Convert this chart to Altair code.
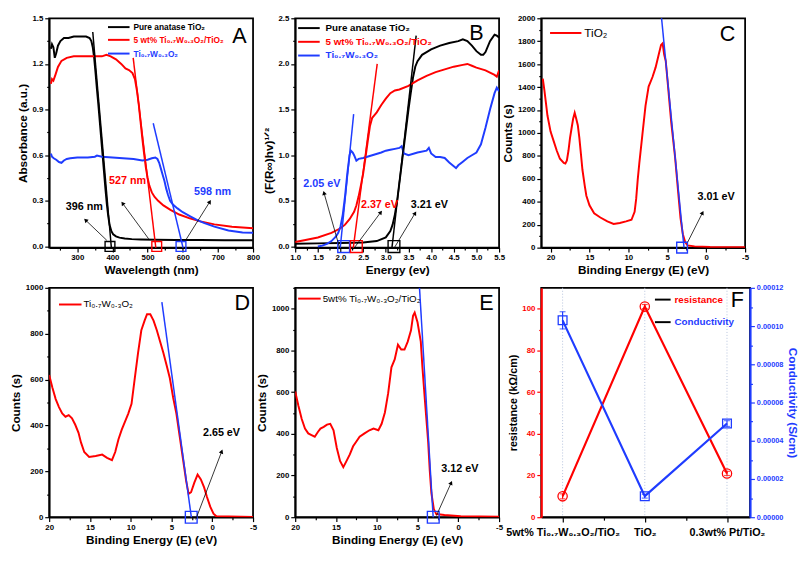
import json
import math
import altair as alt
import pandas as pd

FONT = "Liberation Sans"
RED = "#FF0000"
BLUE = "#1F3CFF"
BLACK = "#000000"
W, H, WF = 208, 234, 213

# ---------------- Panel A : absorbance vs wavelength ----------------
A_black_nm = [225, 228, 232, 236, 240, 245, 252, 262, 275, 290, 310, 325, 335, 340, 344, 348, 352, 356, 360, 364,
              368, 372, 376, 380, 384, 388, 392, 397, 402, 410, 420, 435, 455, 480, 520, 580, 650, 720, 800]
A_black_ab = [1.30, 1.33, 1.31, 1.24, 1.27, 1.32, 1.35, 1.37, 1.37, 1.38, 1.38, 1.38, 1.37, 1.35, 1.31, 1.24, 1.14,
              1.03, 0.93, 0.82, 0.71, 0.60, 0.49, 0.38, 0.28, 0.20, 0.14, 0.10, 0.08, 0.066, 0.058, 0.052, 0.048,
              0.046, 0.044, 0.043, 0.042, 0.041, 0.040]
A_red_nm = [225, 228, 232, 238, 245, 255, 270, 290, 320, 350, 370, 383, 395, 410, 425, 437, 447, 457, 464, 470,
            475, 480, 485, 490, 495, 500, 505, 512, 520, 530, 545, 565, 590, 620, 650, 690, 740, 800]
A_red_ab = [1.07, 1.10, 1.09, 1.13, 1.18, 1.22, 1.24, 1.25, 1.25, 1.25, 1.25, 1.26, 1.25, 1.23, 1.20, 1.17, 1.16,
            1.14, 1.10, 1.02, 0.93, 0.82, 0.71, 0.61, 0.52, 0.45, 0.40, 0.355, 0.325, 0.30, 0.27, 0.24, 0.21,
            0.185, 0.165, 0.145, 0.13, 0.12]
A_blue_nm = [225, 228, 233, 240, 248, 255, 262, 270, 280, 300, 330, 350, 356, 370, 400, 430, 460, 485, 500, 512,
             522, 528, 533, 538, 543, 548, 553, 558, 564, 572, 585, 600, 620, 640, 660, 690, 730, 770, 800]
A_blue_ab = [0.61, 0.59, 0.58, 0.57, 0.555, 0.55, 0.565, 0.575, 0.58, 0.585, 0.585, 0.59, 0.597, 0.59, 0.585, 0.58,
             0.575, 0.565, 0.57, 0.58, 0.585, 0.575, 0.55, 0.51, 0.47, 0.43, 0.38, 0.34, 0.30, 0.275, 0.25, 0.225,
             0.20, 0.175, 0.155, 0.13, 0.105, 0.092, 0.09]
A_tan_black = ([344, 397], [1.41, -0.01])
A_tan_red = ([459, 524], [1.24, -0.02])
A_tan_blue = ([516, 601], [0.81, -0.01])
A_box_x = [393, 526, 595]
A_arrow_x1 = [384, 503, 608]
A_arrow_y1 = [0.04, 0.05, 0.04]
A_arrow_x2 = [325, 430, 676]
A_arrow_y2 = [0.17, 0.28, 0.29]
A_lab_x = [320, 443, 685]
A_lab_y = [0.26, 0.43, 0.36]
A_lab_t = ["396 nm", "527 nm", "598 nm"]

# ---------------- Panel B : Tauc plot ----------------
B_black_e = [1.0, 1.5, 2.0, 2.5, 2.8, 3.0, 3.1, 3.15, 3.2, 3.25, 3.3, 3.35, 3.4, 3.45, 3.5, 3.55, 3.6, 3.65, 3.7,
             3.8, 3.9, 4.0, 4.2, 4.4, 4.6, 4.7, 4.8, 4.9, 5.0, 5.1, 5.15, 5.2, 5.3, 5.4, 5.45, 5.5]
B_black_v = [0.03, 0.035, 0.04, 0.045, 0.06, 0.1, 0.17, 0.24, 0.35, 0.5, 0.7, 0.9, 1.1, 1.3, 1.5, 1.68, 1.85, 1.97,
             2.03, 2.1, 2.13, 2.16, 2.2, 2.23, 2.25, 2.27, 2.25, 2.2, 2.14, 2.1, 2.1, 2.13, 2.25, 2.32, 2.31, 2.29]
B_red_e = [1.0, 1.2, 1.5, 1.8, 2.0, 2.1, 2.2, 2.3, 2.35, 2.4, 2.45, 2.5, 2.55, 2.6, 2.65, 2.7, 2.75, 2.8, 2.9, 3.0,
           3.1, 3.2, 3.3, 3.5, 3.7, 3.9, 4.1, 4.3, 4.5, 4.7, 4.8, 4.9, 5.0, 5.2, 5.4, 5.45, 5.5]
B_red_v = [0.05, 0.07, 0.1, 0.15, 0.2, 0.24, 0.3, 0.38, 0.45, 0.55, 0.67, 0.8, 0.97, 1.15, 1.32, 1.41, 1.44, 1.47,
           1.55, 1.62, 1.68, 1.71, 1.72, 1.76, 1.82, 1.87, 1.91, 1.94, 1.97, 1.99, 2.0, 1.98, 1.96, 1.93, 1.88,
           1.86, 1.93]
B_blue_e = [1.5, 1.6, 1.7, 1.8, 1.9, 1.95, 2.0, 2.05, 2.1, 2.15, 2.2, 2.23, 2.27, 2.3, 2.35, 2.4, 2.5, 2.7, 2.9,
            3.0, 3.1, 3.2, 3.3, 3.35, 3.4, 3.5, 3.7, 3.9, 3.95, 4.0, 4.1, 4.2, 4.3, 4.4, 4.5, 4.55, 4.6, 4.7, 4.8,
            4.9, 5.0, 5.1, 5.2, 5.3, 5.4, 5.45, 5.5]
B_blue_v = [0.0, 0.01, 0.03, 0.06, 0.11, 0.15, 0.22, 0.35, 0.55, 0.8, 1.0, 1.05, 1.03, 1.0, 0.94, 0.96, 0.97, 1.0,
            1.03, 1.05, 1.06, 1.07, 1.08, 1.1, 1.02, 1.0, 1.03, 1.05, 1.08, 1.02, 0.98, 0.98, 0.97, 0.92, 0.88,
            0.86, 0.89, 0.93, 0.97, 1.0, 1.03, 1.12, 1.3, 1.5, 1.68, 1.74, 1.7]
B_tan_black = ([3.12, 3.67], [-0.08, 2.31])
B_tan_red = ([2.27, 2.81], [-0.06, 2.0])
B_tan_blue = ([1.99, 2.29], [-0.035, 1.45])
B_box_x = [2.07, 2.35, 3.18]
B_arrow_x1 = [1.99, 2.28, 3.18]
B_arrow_y1 = [-0.03, -0.03, -0.02]
B_arrow_x2 = [1.64, 2.88, 3.64]
B_arrow_y2 = [0.58, 0.37, 0.36]
B_lab_x = [1.59, 2.86, 3.96]
B_lab_y = [0.68, 0.45, 0.45]
B_lab_t = ["2.05 eV", "2.37 eV", "3.21 eV"]

# ---------------- Panel C : XPS valence band TiO2 ----------------
C_e = [21.0, 20.8, 20.6, 20.4, 20.0, 19.6, 19.2, 18.8, 18.3, 18.1, 17.9, 17.7, 17.5, 17.3, 17.1, 16.9, 16.7, 16.5,
       16.3, 16.1, 15.9, 15.6, 15.4, 15.0, 14.4, 13.6, 12.7, 11.9, 11.1, 10.3, 9.6, 9.2, 9.0, 8.8, 8.6, 8.2, 7.8,
       7.4, 6.9, 6.5, 6.1, 5.8, 5.6, 5.4, 5.2, 4.9, 4.5, 4.0, 3.6, 3.3, 3.0, 2.7, 2.4, 1.5, -0.5, -5.0]
C_c = [1474, 1376, 1264, 1152, 1012, 929, 845, 775, 738, 733, 761, 845, 957, 1041, 1124, 1175, 1124, 1068, 957, 817,
       677, 537, 453, 369, 299, 263, 229, 207, 215, 229, 243, 313, 425, 593, 733, 985, 1236, 1404, 1488, 1572,
       1684, 1768, 1782, 1684, 1628, 1404, 1096, 789, 481, 257, 117, 48, 20, 11, 6, 3]
C_tan = ([5.75, 2.85], [2010, 0])

# ---------------- Panel D : XPS valence band Ti0.7W0.3O2 ----------------
D_e = [20.0, 19.6, 19.2, 18.8, 18.4, 18.0, 17.6, 17.2, 16.8, 16.4, 16.1, 15.7, 15.1, 14.3, 13.5, 12.9, 12.3, 11.9,
       11.5, 11.1, 10.7, 10.3, 9.9, 9.5, 9.1, 8.7, 8.3, 8.0, 7.6, 7.2, 6.8, 6.4, 6.0, 5.6, 5.2, 4.8, 4.4, 4.0, 3.6,
       3.2, 2.9, 2.6, 2.2, 1.8, 1.4, 1.0, 0.65, 0.25, -0.15, -0.5, -5.0]
D_c = [620, 564, 515, 480, 452, 438, 445, 431, 403, 368, 326, 284, 263, 267, 273, 259, 249, 284, 340, 382, 417, 452,
       494, 606, 717, 815, 857, 885, 885, 857, 815, 766, 717, 662, 606, 522, 452, 354, 256, 158, 102, 109, 151,
       186, 165, 130, 88, 46, 15, 4, 1]
D_tan = ([6.18, 2.5], [938, -17])

# ---------------- Panel E : XPS valence band composite ----------------
E_e = [20.0, 19.6, 19.2, 18.8, 18.4, 18.0, 17.6, 17.2, 16.9, 16.5, 16.1, 15.7, 15.3, 14.9, 14.5, 14.1, 13.7, 13.3,
       12.9, 12.5, 12.1, 11.5, 10.9, 10.4, 9.8, 9.4, 9.0, 8.6, 8.2, 7.8, 7.4, 7.0, 6.6, 6.2, 5.8, 5.55, 5.35, 5.0,
       4.6, 4.4, 4.1, 3.7, 3.5, 3.3, 3.0, 2.7, 1.7, -0.3, -5.0]
E_c = [603, 533, 471, 425, 402, 394, 386, 410, 425, 433, 444, 448, 417, 332, 270, 240, 270, 301, 340, 363, 386, 402,
       417, 425, 417, 448, 502, 595, 719, 757, 827, 804, 804, 842, 896, 966, 981, 935, 842, 719, 564, 363, 224,
       116, 39, 15, 11, 5, 2]
E_tan = ([4.76, 3.07], [1102, -8])

# ---------------- Panel F : resistance / conductivity ----------------
F_cats = ["5wt% Ti₀.₇W₀.₃O₂/TiO₂", "TiO₂", "0.3wt% Pt/TiO₂"]
F_pos = [0, 1, 2]
F_res = [10.0, 101.0, 21.0]
F_res_err = [1.2, 1.0, 1.0]
F_cond = [1.03e-4, 1.1e-5, 4.9e-5]
F_cond_err = [4.5e-6, 1.0e-6, 1.5e-6]

ONE = alt.Data(values=[{}])


def tick_size(majors, major=4.5, minor=2.5):
    return {"condition": {"test": "indexof(%s, datum.value) < 0" % json.dumps(majors), "value": minor},
            "value": major}


def make_axis(majors, minors, title, lab="datum.label", **kw):
    show = "indexof(%s, datum.value) >= 0" % json.dumps(majors)
    return alt.Axis(values=sorted(majors + minors), title=title,
                    labelExpr=f"{show} ? {lab} : ''", tickSize=tick_size(majors), **kw)


def arrow_angle(x1, y1, x2, y2, xdom, ydom, w, h, xrev):
    sx = w / (xdom[1] - xdom[0]) * (-1 if xrev else 1)
    sy = h / (ydom[1] - ydom[0])
    dx = (x2 - x1) * sx
    dy = -(y2 - y1) * sy
    return math.degrees(math.atan2(dx, -dy)) % 360


def txt(s, x, y, color=BLACK, size=10, weight="bold", align="left"):
    return alt.Chart(ONE).mark_text(text=s, color=color, fontSize=size, fontWeight=weight, font=FONT,
                                    align=align, baseline="middle").encode(x=alt.value(x), y=alt.value(y))


def hline(x1, x2, y, color, width=2):
    return alt.Chart(ONE).mark_rule(color=color, strokeWidth=width).encode(
        x=alt.value(x1), x2=alt.value(x2), y=alt.value(y))


def panel(xdom, ydom, xrev, xaxis, yaxis, curves, tangents, boxes, box_size, arrows, labels, extras, width=W):
    X = alt.X("x:Q", scale=alt.Scale(domain=xdom, reverse=xrev, nice=False, zero=False), axis=xaxis)
    Y = alt.Y("y:Q", scale=alt.Scale(domain=ydom, nice=False, zero=False), axis=yaxis)
    layers = []
    for xs, ys, col in curves:
        layers.append(alt.Chart(pd.DataFrame({"x": xs, "y": ys})).mark_line(
            color=col, strokeWidth=2, clip=True).encode(x=X, y=Y))
    for (xs, ys), col in tangents:
        layers.append(alt.Chart(pd.DataFrame({"x": xs, "y": ys})).mark_line(
            color=col, strokeWidth=1.5, clip=True).encode(x=X, y=Y))
    bx, bc = boxes
    layers.append(alt.Chart(pd.DataFrame({"x": bx, "y": [0] * len(bx), "c": bc})).mark_point(
        shape="square", filled=False, size=box_size, strokeWidth=1.4, opacity=1).encode(
        x=X, y=Y, color=alt.Color("c:N", scale=None)))
    x1, y1, x2, y2 = arrows
    layers.append(alt.Chart(pd.DataFrame({"x": x1, "y": y1, "x2": x2, "y2": y2})).mark_rule(
        color=BLACK, strokeWidth=0.8).encode(x=X, y=Y, x2="x2:Q", y2="y2:Q"))
    ang = [arrow_angle(a, b, c, d, xdom, ydom, width, H, xrev) for a, b, c, d in zip(x1, y1, x2, y2)]
    layers.append(alt.Chart(pd.DataFrame({"x": x2, "y": y2, "a": ang})).mark_point(
        shape="triangle", filled=True, color=BLACK, size=22, opacity=1).encode(
        x=X, y=Y, angle=alt.Angle("a:Q", scale=None)))
    lx, ly, lt, lc = labels
    layers.append(alt.Chart(pd.DataFrame({"x": lx, "y": ly, "t": lt, "c": lc})).mark_text(
        font=FONT, fontSize=11, fontWeight="bold").encode(
        x=X, y=Y, text="t:N", color=alt.Color("c:N", scale=None)))
    layers.extend(extras)
    return alt.layer(*layers).properties(width=width, height=H)


be_majors = [20, 15, 10, 5, 0, -5]
be_minors = [17.5, 12.5, 7.5, 2.5, -2.5]
plain = "'' + datum.value"

# Panel A
A_xdom, A_ydom = [220, 800], [-0.008, 1.5]
chartA = panel(
    A_xdom, A_ydom, False,
    make_axis([300, 400, 500, 600, 700, 800], [250, 350, 450, 550, 650, 750], "Wavelength (nm)", plain),
    make_axis([0.0, 0.3, 0.6, 0.9, 1.2, 1.5], [0.15, 0.45, 0.75, 1.05, 1.35], "Absorbance (a.u.)",
              "format(datum.value, '.1f')"),
    [(A_black_nm, A_black_ab, BLACK), (A_red_nm, A_red_ab, RED), (A_blue_nm, A_blue_ab, BLUE)],
    [(A_tan_black, BLACK), (A_tan_red, RED), (A_tan_blue, BLUE)],
    (A_box_x, [BLACK, RED, BLUE]), 100,
    (A_arrow_x1, A_arrow_y1, A_arrow_x2, A_arrow_y2),
    (A_lab_x, A_lab_y, A_lab_t, [BLACK, RED, BLUE]),
    [hline(60, 82, 9, BLACK), hline(60, 82, 22, RED), hline(60, 82, 36, BLUE),
     txt("Pure anatase TiO₂", 86, 9, BLACK, 8.5), txt("5 wt% Ti₀.₇W₀.₃O₂/TiO₂", 86, 22, RED, 8.5),
     txt("Ti₀.₇W₀.₃O₂", 86, 36, BLUE, 8.5),
     txt("A", 194, 18, BLACK, 22, "normal", "center")])

# Panel B
B_xdom, B_ydom = [1.0, 5.5], [-0.012, 2.5]
chartB = panel(
    B_xdom, B_ydom, False,
    make_axis([1.0, 1.5, 2.0, 2.5, 3.0, 3.5, 4.0, 4.5, 5.0, 5.5],
              [1.25, 1.75, 2.25, 2.75, 3.25, 3.75, 4.25, 4.75, 5.25], "Energy (ev)",
              "format(datum.value, '.1f')"),
    make_axis([0.0, 0.5, 1.0, 1.5, 2.0, 2.5], [0.25, 0.75, 1.25, 1.75, 2.25], "(F(R∞)hv)¹ᐟ²",
              "format(datum.value, '.1f')", titleY=145),
    [(B_black_e, B_black_v, BLACK), (B_red_e, B_red_v, RED), (B_blue_e, B_blue_v, BLUE)],
    [(B_tan_black, BLACK), (B_tan_red, RED), (B_tan_blue, BLUE)],
    (B_box_x, [BLUE, RED, BLACK]), 144,
    (B_arrow_x1, B_arrow_y1, B_arrow_x2, B_arrow_y2),
    (B_lab_x, B_lab_y, B_lab_t, [BLUE, RED, BLACK]),
    [hline(3, 25, 10, BLACK), hline(3, 25, 24, RED), hline(3, 25, 38, BLUE),
     txt("Pure anatase TiO₂", 31, 10, BLACK, 10), txt("5 wt% Ti₀.₇W₀.₃O₂/TiO₂", 31, 24, RED, 10),
     txt("Ti₀.₇W₀.₃O₂", 31, 38, BLUE, 10),
     txt("B", 185, 15, BLACK, 22, "normal", "center")])

# Panel C
C_xdom, C_ydom = [-5, 21.2], [0, 2000]
chartC = panel(
    C_xdom, C_ydom, True,
    make_axis(be_majors, be_minors, "Binding Energy (E) (eV)", plain),
    make_axis(list(range(0, 2001, 200)), list(range(100, 2000, 200)), "Counts (s)", plain),
    [(C_e, C_c, RED)],
    [(C_tan, BLUE)],
    ([3.1], [BLUE]), 120,
    ([2.38], [48], [0.51], [299]),
    ([-1.27], [439], ["3.01 eV"], [BLACK]),
    [hline(9, 41, 15, RED), txt("TiO₂", 44, 15, BLACK, 12, "normal"),
     txt("C", 190, 16, BLACK, 22, "normal", "center")])

# Panel D
D_xdom, D_ydom = [-5, 20], [0, 1000]
chartD = panel(
    D_xdom, D_ydom, True,
    make_axis(be_majors, be_minors, "Binding Energy (E) (eV)", plain),
    make_axis(list(range(0, 1001, 200)), list(range(100, 1000, 200)), "Counts (s)", plain),
    [(D_e, D_c, RED)],
    [(D_tan, BLUE)],
    ([2.58], [BLUE]), 144,
    ([2.03], [-10], [-1.13], [284]),
    ([-1.13], [368], ["2.65 eV"], [BLACK]),
    [hline(10, 33, 17, RED), txt("Ti₀.₇W₀.₃O₂", 35, 17, BLACK, 10, "normal"),
     txt("D", 197, 16, BLACK, 22, "normal", "center")])

# Panel E
E_xdom, E_ydom = [-5, 20], [0, 1100]
chartE = panel(
    E_xdom, E_ydom, True,
    make_axis(be_majors, be_minors, "Binding Energy (E) (eV)", plain),
    make_axis(list(range(0, 1001, 200)), list(range(100, 1101, 200)), "Counts (s)", plain),
    [(E_e, E_c, RED)],
    [(E_tan, BLUE)],
    ([3.07], [BLUE]), 144,
    ([2.68], [8], [0.91], [162]),
    ([-0.2], [229], ["3.12 eV"], [BLACK]),
    [hline(3, 26, 11, RED), txt("5wt% Ti₀.₇W₀.₃O₂/TiO₂", 28, 11, BLACK, 10, "normal"),
     txt("E", 195, 16, BLACK, 22, "normal", "center")])

# Panel F
cat_expr = "".join(f"datum.value == {p} ? '{c}' : " for p, c in zip(F_pos, F_cats)) + "''"
X_F = alt.X("x:Q", scale=alt.Scale(domain=[-0.26, 2.28], nice=False, zero=False),
            axis=alt.Axis(values=[0, 0.5, 1, 1.5, 2], labelExpr=cat_expr, tickSize=tick_size([0, 1, 2], 5, 3),
                          title=None, labelFontSize=11, labelPadding=5))
Y_R = alt.Y("y:Q", scale=alt.Scale(domain=[0, 110], nice=False, zero=False),
            axis=make_axis([0, 20, 40, 60, 80, 100], [10, 30, 50, 70, 90], "resistance (kΩ/cm)",
                           orient="left", domainColor=RED, tickColor=RED, labelColor=RED, domainWidth=2.2,
                           titleFontSize=11))
cond_majors = [0.0, 2e-05, 4e-05, 6e-05, 8e-05, 0.0001, 0.00012]
cond_minors = [1e-05, 3e-05, 5e-05, 7e-05, 9e-05, 0.00011]
Y_C = alt.Y("y:Q", scale=alt.Scale(domain=[0, 0.00012], nice=False, zero=False),
            axis=make_axis(cond_majors, cond_minors, "Conductivity (S/cm)", "format(datum.value, '.5f')",
                           orient="right", domainColor=BLUE, tickColor=BLUE, labelColor=BLUE,
                           titleColor=BLUE, domainWidth=2.2, labelFontSize=7.5))

res_lo = [r - e for r, e in zip(F_res, F_res_err)]
res_hi = [r + e for r, e in zip(F_res, F_res_err)]
cond_lo = [c - e for c, e in zip(F_cond, F_cond_err)]
cond_hi = [c + e for c, e in zip(F_cond, F_cond_err)]
res_df = pd.DataFrame({"x": F_pos, "y": F_res})
res_err_df = pd.DataFrame({"x": F_pos, "y": res_lo, "y2": res_hi})
res_cap_df = pd.DataFrame({"x": F_pos + F_pos, "y": res_lo + res_hi})
cond_df = pd.DataFrame({"x": F_pos, "y": F_cond})
cond_err_df = pd.DataFrame({"x": F_pos, "y": cond_lo, "y2": cond_hi})
cond_cap_df = pd.DataFrame({"x": F_pos + F_pos, "y": cond_lo + cond_hi})

res_layer = alt.layer(
    alt.Chart(pd.DataFrame({"x": F_pos})).mark_rule(color="#B4C2DC", strokeDash=[1, 2], strokeWidth=1).encode(x=X_F),
    alt.Chart(res_df).mark_line(color=RED, strokeWidth=2.2).encode(x=X_F, y=Y_R),
    alt.Chart(res_err_df).mark_rule(color=RED, strokeWidth=1.2).encode(x=X_F, y=Y_R, y2="y2:Q"),
    alt.Chart(res_cap_df).mark_tick(color=RED, orient="horizontal", size=6, thickness=1.2).encode(x=X_F, y=Y_R),
    alt.Chart(res_df).mark_point(shape="circle", filled=False, size=90, color=RED, strokeWidth=1.3,
                                 opacity=1).encode(x=X_F, y=Y_R),
    hline(116, 132, 12, BLACK), txt("resistance", 136, 12, RED, 10),
    hline(116, 132, 35, BLACK), txt("Conductivity", 136, 35, BLUE, 10),
    txt("F", 200, 13, BLACK, 22, "normal", "center"),
)
cond_layer = alt.layer(
    alt.Chart(cond_df).mark_line(color=BLUE, strokeWidth=2.2).encode(x=X_F, y=Y_C),
    alt.Chart(cond_err_df).mark_rule(color=BLUE, strokeWidth=1.2).encode(x=X_F, y=Y_C, y2="y2:Q"),
    alt.Chart(cond_cap_df).mark_tick(color=BLUE, orient="horizontal", size=6, thickness=1.2).encode(x=X_F, y=Y_C),
    alt.Chart(cond_df).mark_point(shape="square", filled=False, size=80, color=BLUE, strokeWidth=1.3,
                                  opacity=1).encode(x=X_F, y=Y_C),
)
chartF = alt.layer(res_layer, cond_layer).resolve_scale(y="independent").properties(width=WF, height=H)

chart = alt.concat(chartA, chartB, chartC, chartD, chartE, chartF, columns=3,
                   spacing={"row": 41, "column": 43}, bounds="flush").properties(padding=0)
chart = chart.configure_view(stroke=BLACK, strokeWidth=1.8).configure_axis(
    labelFont=FONT, labelFontSize=8, labelFontWeight="bold", labelColor=BLACK,
    titleFont=FONT, titleFontSize=12, titleFontWeight="bold", titleColor=BLACK,
    domainColor=BLACK, domainWidth=1.8, tickColor=BLACK, tickWidth=1.2,
    labelPadding=2, titlePadding=3, grid=False, labelFlush=False, labelOverlap=False)

chart.save("out.html", embed_options={"renderer": "svg", "actions": False})
